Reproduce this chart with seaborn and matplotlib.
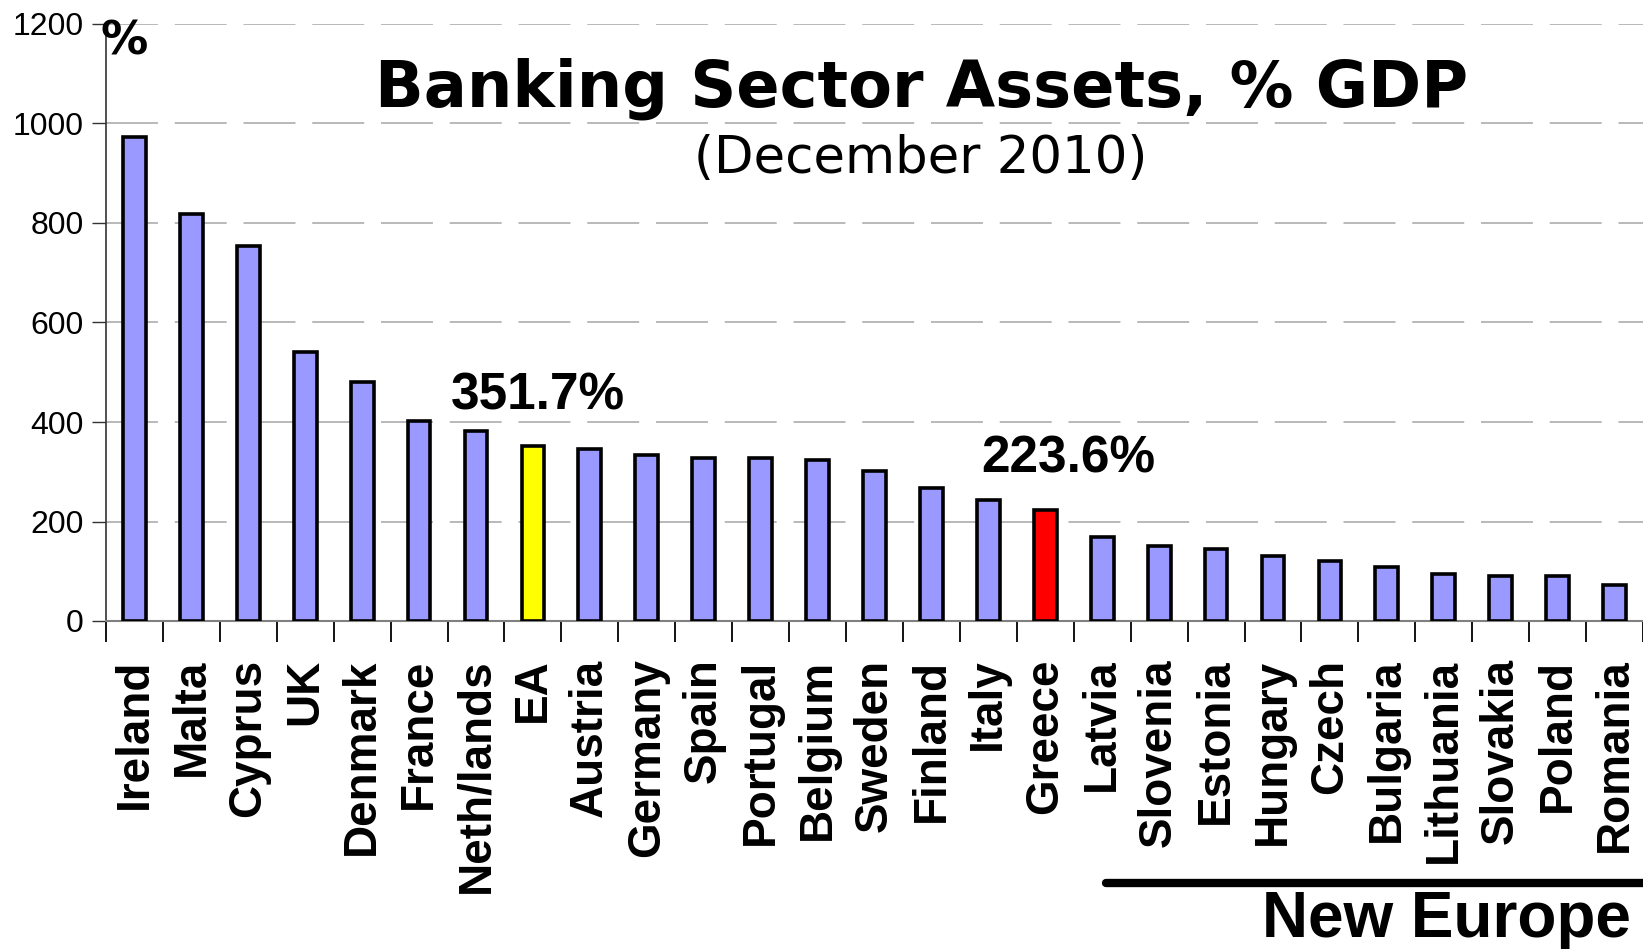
import matplotlib
matplotlib.use("Agg")
import pandas as pd
import seaborn as sns
import matplotlib.pyplot as plt

# data
countries = ["Ireland", "Malta", "Cyprus", "UK", "Denmark", "France", "Neth/lands", "EA",
             "Austria", "Germany", "Spain", "Portugal", "Belgium", "Sweden", "Finland",
             "Italy", "Greece", "Latvia", "Slovenia", "Estonia", "Hungary", "Czech",
             "Bulgaria", "Lithuania", "Slovakia", "Poland", "Romania"]
assets = [973, 818, 753, 541, 480, 403, 382, 351.7, 346, 334, 327, 327, 323, 302, 268,
          243, 223.6, 168, 151, 145, 130, 120, 109, 94, 90, 90, 73]
bar_colors = ["#9999FF"] * len(countries)
bar_colors[countries.index("EA")] = "#FFFF00"
bar_colors[countries.index("Greece")] = "#FF0000"
yticks = [0, 200, 400, 600, 800, 1000, 1200]

df = pd.DataFrame({"country": countries, "assets": assets})

sns.set_style("white")
plt.rcParams["font.family"] = ["Liberation Sans", "DejaVu Sans"]
plt.rcParams["text.color"] = "black"
plt.rcParams["xtick.color"] = "black"
plt.rcParams["ytick.color"] = "black"

W, H = 1643, 949
fig = plt.figure(figsize=(W / 100, H / 100), dpi=100)
ax = fig.add_axes([106 / W, (H - 621) / H, 1537 / W, (621 - 24) / H])

sns.barplot(data=df, x="country", y="assets", hue="country", palette=bar_colors,
            legend=False, width=0.40, saturation=1, edgecolor="black", linewidth=2.6,
            ax=ax, zorder=3)

ax.set_xlim(-0.5, 26.33)
ax.set_ylim(0, 1200)
ax.set_yticks(yticks)
ax.set_yticklabels([str(v) for v in yticks], fontsize=23)
ax.set_xlabel("")
ax.set_ylabel("")

# dashed grid
for v in yticks[1:]:
    ax.axhline(v, color="#A6A6A6", lw=1.1, dashes=(34, 11), zorder=1)

for s in ["top", "right"]:
    ax.spines[s].set_visible(False)
ax.spines["left"].set_color("#333333")
ax.spines["bottom"].set_color("#808080")
ax.spines["left"].set_linewidth(1.2)
ax.spines["bottom"].set_linewidth(1.5)

ax.tick_params(axis="y", direction="out", length=10, width=1, color="#333333", pad=6, left=True)
# category labels, separator ticks as minor ticks
ax.set_xticks(range(len(countries)))
ax.set_xticklabels(countries, rotation=90, fontsize=33, fontweight="bold", va="top", ha="center")
ax.tick_params(axis="x", which="major", length=0, pad=27)
ax.set_xticks([i - 0.5 for i in range(len(countries) + 1)], minor=True)
ax.tick_params(axis="x", which="minor", direction="out", length=15, width=1.3, color="black", bottom=True)

# titles and annotations
fig.text(0.5606, 0.906, "Banking Sector Assets, % GDP", fontsize=46, fontweight="bold",
         family="DejaVu Sans", ha="center", va="center")
fig.text(0.5606, 0.832, "(December 2010)", fontsize=37, family="DejaVu Sans",
         ha="center", va="center")
fig.text(124 / W, 1 - 42 / H, "%", fontsize=34, fontweight="bold", family="DejaVu Sans",
         ha="center", va="center")
ax.text(7.08, 452, "351.7%", fontsize=37, fontweight="bold", ha="center", va="center")
ax.text(16.4, 326, "223.6%", fontsize=37, fontweight="bold", ha="center", va="center")

# New Europe bracket
fig.add_artist(plt.Line2D([1106 / W, 1.0], [(H - 883) / H] * 2, color="black", lw=6))
fig.text(1446 / W, (H - 920) / H, "New Europe", fontsize=46, fontweight="bold",
         ha="center", va="center")

fig.savefig("out.png", dpi=100)
